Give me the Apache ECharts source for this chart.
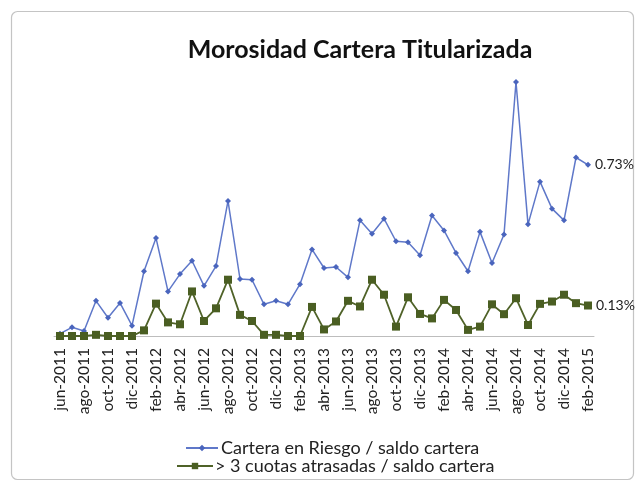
<!DOCTYPE html>
<html>
<head>
<meta charset="utf-8">
<script src="https://cdn.jsdelivr.net/npm/echarts@6/dist/echarts.min.js"></script>
<style>
  html, body { margin: 0; padding: 0; background: #fff; }
  #chart { width: 639px; height: 483px; }
</style>
</head>
<body>
<div id="chart"></div>
<script>
const months = ["ene", "feb", "mar", "abr", "may", "jun", "jul", "ago", "sep", "oct", "nov", "dic"];

// jun-2011 .. feb-2015
const categories = [];
for (let y = 2011, m = 5; y < 2015 || m <= 1; ) {
  categories.push(months[m] + "-" + y);
  m++;
  if (m > 11) { m = 0; y++; }
}

const carteraRiesgo = [
  0.01, 0.037, 0.021, 0.15, 0.078, 0.141, 0.044, 0.276, 0.418, 0.19,
  0.264, 0.321, 0.214, 0.298, 0.576, 0.243, 0.24, 0.135, 0.15, 0.135,
  0.221, 0.369, 0.29, 0.294, 0.25, 0.493, 0.436, 0.5, 0.404, 0.4,
  0.344, 0.514, 0.45, 0.354, 0.276, 0.444, 0.311, 0.433, 1.083, 0.476,
  0.658, 0.543, 0.493, 0.761, 0.73
];

const cuotasAtrasadas = [
  0, 0, 0, 0.005, 0, 0, 0, 0.024, 0.138, 0.058,
  0.05, 0.19, 0.064, 0.118, 0.24, 0.09, 0.064, 0.005, 0.005, 0,
  0, 0.124, 0.028, 0.062, 0.15, 0.126, 0.24, 0.176, 0.04, 0.165,
  0.094, 0.075, 0.154, 0.111, 0.026, 0.04, 0.135, 0.093, 0.161, 0.047,
  0.137, 0.147, 0.176, 0.14, 0.13
];

const seriesNames = ["Cartera en Riesgo / saldo cartera", "> 3 cuotas atrasadas / saldo cartera"];

const chart = echarts.init(document.getElementById("chart"));

const lastLabel = (n) => (p) => (p.dataIndex === n - 1 ? p.value.toFixed(2) + "%" : "");

chart.setOption({
  backgroundColor: "#fff",
  textStyle: { fontFamily: "Lato, 'Open Sans', sans-serif" },
  graphic: [{
    type: "rect",
    left: 9, top: 9,
    shape: { width: 622, height: 468, r: 6 },
    style: { fill: "none", stroke: "#c4c4c4", lineWidth: 1.2 },
    z: -1
  }],
  title: {
    text: "Morosidad Cartera Titularizada",
    left: 355, top: 32, textAlign: "center",
    textStyle: { fontSize: 25, fontWeight: "bold", color: "#111", fontFamily: "Lato" }
  },
  legend: [
    {
      data: [seriesNames[0]], left: 180, top: 434,
      itemWidth: 32, itemHeight: 8, itemGap: 4,
      textStyle: { fontSize: 18, color: "#222", padding: [0, 0, 0, -2] }
    },
    {
      data: [seriesNames[1]], left: 171, top: 452,
      itemWidth: 36, itemHeight: 8,
      textStyle: { fontSize: 18, color: "#222", padding: [0, 0, 0, -3] }
    }
  ],
  grid: { left: 54, right: 45, top: 78, bottom: 147 },
  xAxis: {
    type: "category",
    data: categories,
    boundaryGap: true,
    axisLine: { lineStyle: { color: "#bdbdbd" } },
    axisTick: { interval: 0, length: 5, lineStyle: { color: "#bdbdbd" } },
    axisLabel: { interval: 1, rotate: 90, fontSize: 15.5, color: "#222", margin: 12 }
  },
  yAxis: {
    type: "value",
    min: 0, max: 1.1,
    show: false,
    splitLine: { show: false }
  },
  series: [
    {
      name: seriesNames[0],
      type: "line",
      data: carteraRiesgo,
      symbol: "diamond",
      symbolSize: 6,
      color: "#4a65bd",
      lineStyle: { width: 1.5, color: "#5f78c9" },
      label: {
        show: true, position: "right", distance: 4,
        fontSize: 14, color: "#222",
        formatter: lastLabel(carteraRiesgo.length)
      }
    },
    {
      name: seriesNames[1],
      type: "line",
      data: cuotasAtrasadas,
      symbol: "rect",
      symbolSize: 8,
      color: "#4a5e22",
      lineStyle: { width: 1.8, color: "#4f6228" },
      label: {
        show: true, position: "right", distance: 4,
        fontSize: 14, color: "#222",
        formatter: lastLabel(cuotasAtrasadas.length)
      }
    }
  ]
});
</script>
</body>
</html>
